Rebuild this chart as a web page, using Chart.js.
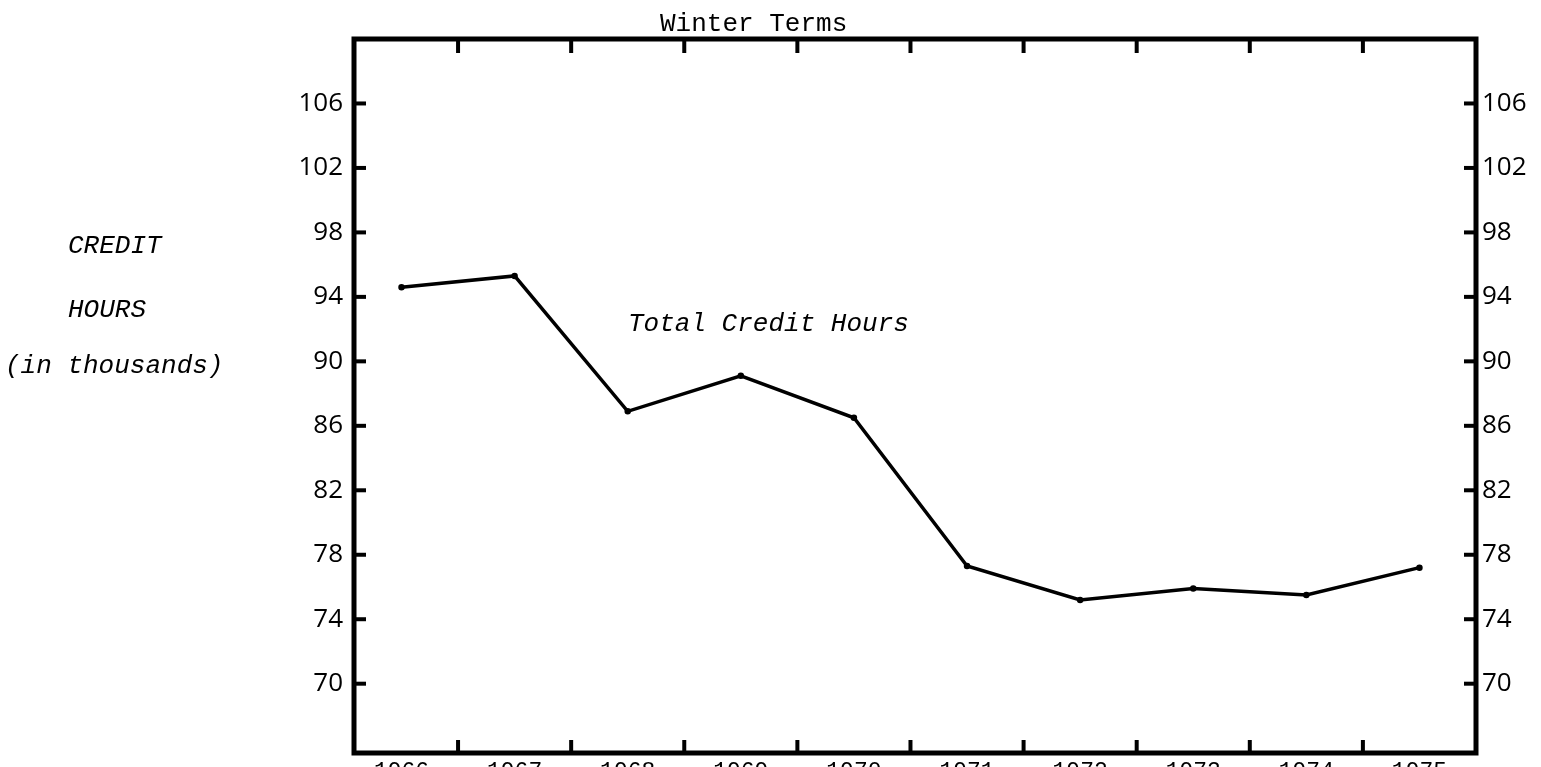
<!DOCTYPE html>
<html>
<head>
<meta charset="utf-8">
<title>Winter Terms – Total Credit Hours</title>
<script src="https://cdn.jsdelivr.net/npm/chart.js@4/dist/chart.umd.min.js"></script>
<style>
  html, body { margin: 0; padding: 0; background: #ffffff; overflow: hidden; }
  #wrap { position: relative; width: 1541px; height: 767px; }
</style>
</head>
<body>
<div id="wrap"><canvas id="chart" width="1541" height="767"></canvas></div>
<script>
// Winter-term enrolment, total credit hours (thousands)
const years = ['1966', '1967', '1968', '1969', '1970', '1971', '1972', '1973', '1974', '1975'];
const creditHours = [94.6, 95.3, 86.9, 89.1, 86.5, 77.3, 75.2, 75.9, 75.5, 77.2];
const yTickValues = [70, 74, 78, 82, 86, 90, 94, 98, 102, 106];

const chartTitle = 'Winter Terms';
const yTitleLines = ['CREDIT', 'HOURS', '(in thousands)'];
const seriesLabel = 'Total Credit Hours';

const INK = '#000000';
const MONO = '"Liberation Mono", "DejaVu Sans Mono", monospace';
const SANS = '"Open Sans", "DejaVu Sans", sans-serif';

// keep the plot box exactly where the axis widths put it
function noPadding(s) {
  s.paddingTop = 0; s.paddingBottom = 0; s.paddingLeft = 0; s.paddingRight = 0;
}

// Frame, inward tick marks and the typed annotations
const typewriterPlugin = {
  id: 'typewriter',
  afterDraw(chart) {
    const { ctx, chartArea: a, scales } = chart;
    const x = scales.x, y = scales.y, y2 = scales.y2;
    ctx.save();
    ctx.strokeStyle = INK;
    ctx.lineCap = 'square';

    // heavy frame round the plot
    ctx.lineWidth = 5;
    ctx.strokeRect(a.left, a.top, a.right - a.left, a.bottom - a.top);

    // inward ticks on both value axes
    ctx.lineWidth = 4;
    ctx.lineCap = 'butt';
    yTickValues.forEach(v => {
      const py = y.getPixelForValue(v);
      ctx.beginPath(); ctx.moveTo(a.left, py); ctx.lineTo(a.left + 12, py); ctx.stroke();
      const pr = y2.getPixelForValue(v);
      ctx.beginPath(); ctx.moveTo(a.right, pr); ctx.lineTo(a.right - 12, pr); ctx.stroke();
    });

    // inward ticks between the years, top and bottom
    for (let i = 0; i < years.length - 1; i++) {
      const px = x.getPixelForValue(i + 0.5);
      ctx.beginPath(); ctx.moveTo(px, a.bottom); ctx.lineTo(px, a.bottom - 13); ctx.stroke();
      ctx.beginPath(); ctx.moveTo(px, a.top); ctx.lineTo(px, a.top + 14); ctx.stroke();
    }

    // text
    ctx.fillStyle = INK;
    ctx.textBaseline = 'alphabetic';
    ctx.textAlign = 'left';
    ctx.font = '26px ' + MONO;
    ctx.fillText(chartTitle, 660, 31);

    ctx.font = 'italic 26px ' + MONO;
    ctx.fillText(yTitleLines[0], 68, 253);
    ctx.fillText(yTitleLines[1], 68, 317);
    ctx.fillText(yTitleLines[2], 5, 373);

    ctx.fillText(seriesLabel, 628, 331);
    ctx.restore();
  }
};

new Chart(document.getElementById('chart'), {
  type: 'line',
  data: {
    datasets: [{
      label: seriesLabel,
      data: creditHours.map((v, i) => ({ x: i, y: v })),
      borderColor: INK,
      backgroundColor: INK,
      borderWidth: 3.5,
      pointRadius: 1.5,
      pointHoverRadius: 1.5,
      tension: 0,
      fill: false
    }]
  },
  options: {
    responsive: false,
    devicePixelRatio: 1,
    animation: false,
    layout: { padding: { top: 39, left: 0, right: 0, bottom: 0 } },
    plugins: {
      legend: { display: false },
      tooltip: { enabled: false },
      title: { display: false }
    },
    scales: {
      x: {
        type: 'linear',
        position: 'bottom',
        min: -0.42,
        max: 9.5,
        afterBuildTicks: s => { s.ticks = years.map((_, i) => ({ value: i })); },
        afterFit: s => { s.height = 14; noPadding(s); },
        grid: { display: false, drawTicks: false },
        border: { display: false },
        ticks: {
          autoSkip: false,
          maxRotation: 0,
          padding: 5,
          color: INK,
          font: { family: MONO, size: 23 },
          callback: v => years[v]
        }
      },
      y: {
        type: 'linear',
        position: 'left',
        min: 65.7,
        max: 110.0,
        afterBuildTicks: s => { s.ticks = yTickValues.map(v => ({ value: v })); },
        afterFit: s => { s.width = 354; noPadding(s); },
        grid: { display: false, drawTicks: false },
        border: { display: false },
        ticks: { padding: 11, color: INK, font: { family: SANS, size: 26 } }
      },
      y2: {
        type: 'linear',
        position: 'right',
        min: 65.7,
        max: 110.0,
        afterBuildTicks: s => { s.ticks = yTickValues.map(v => ({ value: v })); },
        afterFit: s => { s.width = 65; noPadding(s); },
        grid: { display: false, drawTicks: false },
        border: { display: false },
        ticks: { padding: 6, color: INK, font: { family: SANS, size: 26 } }
      }
    }
  },
  plugins: [typewriterPlugin]
});
</script>
</body>
</html>
